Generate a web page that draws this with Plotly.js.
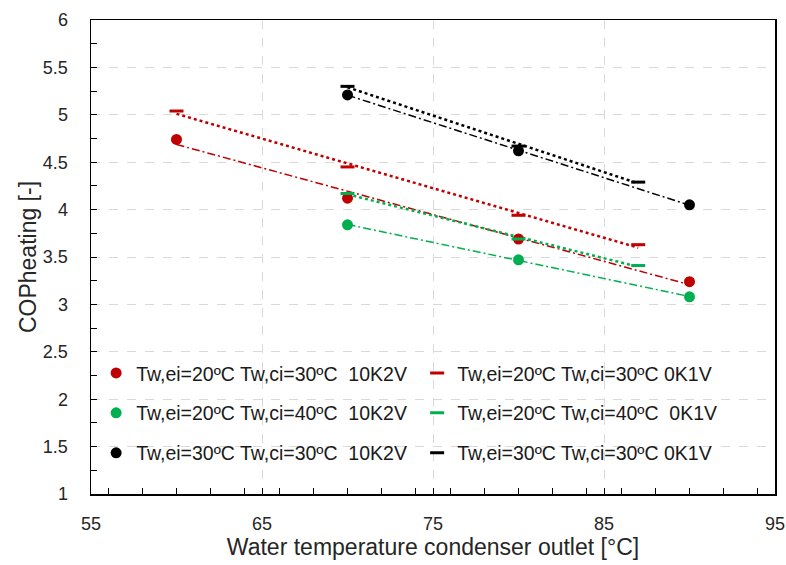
<!DOCTYPE html>
<html><head><meta charset="utf-8">
<script src="https://cdn.plot.ly/plotly-3.0.1.min.js"></script>
<style>html,body{margin:0;padding:0;background:#fff}</style>
</head><body><div id="chart" style="width:786px;height:565px"></div>
<script>
// Data
const xRed10 = [60, 70, 80, 90];
const yRed10 = [4.74, 4.12, 3.69, 3.24];
const xRed0 = [60, 70, 80, 87];
const yRed0 = [5.04, 4.45, 3.94, 3.63];
const xGreen10 = [70, 80, 90];
const yGreen10 = [3.84, 3.47, 3.08];
const xGreen0 = [70, 80, 87];
const yGreen0 = [4.17, 3.69, 3.41];
const xBlack10 = [70, 80, 90];
const yBlack10 = [5.21, 4.62, 4.05];
const xBlack0 = [70, 80, 87];
const yBlack0 = [5.30, 4.67, 4.29];

const seriesNames = [
  "Tw,ei=20ºC Tw,ci=30ºC  10K2V",
  "Tw,ei=20ºC Tw,ci=30ºC 0K1V",
  "Tw,ei=20ºC Tw,ci=40ºC  10K2V",
  "Tw,ei=20ºC Tw,ci=40ºC  0K1V",
  "Tw,ei=30ºC Tw,ci=30ºC  10K2V",
  "Tw,ei=30ºC Tw,ci=30ºC 0K1V"
];

const RED = "#C00000", GREEN = "#00B050", BLACK = "#000000";
const FONT = "Liberation Sans, Arial, sans-serif";

function fit(xs, ys) {
  const n = xs.length;
  const mx = xs.reduce((a, b) => a + b, 0) / n;
  const my = ys.reduce((a, b) => a + b, 0) / n;
  let sxy = 0, sxx = 0;
  for (let i = 0; i < n; i++) { sxy += (xs[i] - mx) * (ys[i] - my); sxx += (xs[i] - mx) ** 2; }
  const b = sxy / sxx, a = my - b * mx;
  const x0 = Math.min(...xs), x1 = Math.max(...xs);
  return { x: [x0, x1], y: [a + b * x0, a + b * x1] };
}

function trend(xs, ys, color, kind) {
  const f = fit(xs, ys);
  return {
    x: f.x, y: f.y, mode: "lines", showlegend: false, hoverinfo: "skip",
    line: kind === "dot" ? { color: color, width: 2.5, dash: "3px,3px" }
                         : { color: color, width: 1.5, dash: "8px,3px,2px,3px" }
  };
}

function circ(xs, ys, color, name, leg) {
  return { x: xs, y: ys, mode: "markers", name: name, legend: leg,
    marker: { symbol: "circle", size: 11, color: color } };
}
function dash(xs, ys, color, name, leg) {
  return { x: xs, y: ys, mode: "markers", name: name, legend: leg,
    marker: { symbol: "line-ew", size: 10, color: color, line: { color: color, width: 3 } } };
}

const traces = [
  trend(xRed10, yRed10, RED, "dashdot"),
  trend(xRed0, yRed0, RED, "dot"),
  trend(xGreen10, yGreen10, GREEN, "dashdot"),
  trend(xGreen0, yGreen0, GREEN, "dot"),
  trend(xBlack10, yBlack10, BLACK, "dashdot"),
  trend(xBlack0, yBlack0, BLACK, "dot"),
  circ(xRed10, yRed10, RED, seriesNames[0], "legend"),
  dash(xRed0, yRed0, RED, seriesNames[1], "legend"),
  circ(xGreen10, yGreen10, GREEN, seriesNames[2], "legend2"),
  dash(xGreen0, yGreen0, GREEN, seriesNames[3], "legend2"),
  circ(xBlack10, yBlack10, BLACK, seriesNames[4], "legend3"),
  dash(xBlack0, yBlack0, BLACK, seriesNames[5], "legend3")
];

function legendAt(y) {
  return {
    orientation: "h", x: 0.0075, xanchor: "left", y: y, yanchor: "middle",
    bgcolor: "rgba(0,0,0,0)", entrywidth: 276, traceorder: "normal",
    font: { family: FONT, size: 19.5, color: "#1a1a1a" }
  };
}

const layout = {
  width: 786, height: 565,
  margin: { l: 91, r: 11, t: 20, b: 71 },
  paper_bgcolor: "#ffffff", plot_bgcolor: "#ffffff",
  font: { family: FONT, color: "#262626" },
  xaxis: {
    range: [55, 95], tick0: 55, dtick: 10, autorange: false,
    showline: true, linecolor: "#000", linewidth: 1.5, mirror: true,
    ticks: "inside", ticklen: 6, tickcolor: "#000", tickwidth: 1,
    minor: { dtick: 2, ticks: "inside", ticklen: 6, tickcolor: "#000", showgrid: false },
    showgrid: true, gridcolor: "#D9D9D9", griddash: "dash", gridwidth: 1,
    zeroline: false, ticklabelstandoff: 13,
    tickfont: { family: FONT, size: 18, color: "#262626" },
    title: { text: "Water temperature condenser outlet [°C]", standoff: 6,
             font: { family: FONT, size: 23, color: "#262626" } }
  },
  yaxis: {
    range: [1, 6], tick0: 1, dtick: 0.5, autorange: false,
    showline: true, linecolor: "#000", linewidth: 1.5, mirror: true,
    ticks: "inside", ticklen: 6, tickcolor: "#000", tickwidth: 1,
    minor: { dtick: 0.25, ticks: "inside", ticklen: 6, tickcolor: "#000", showgrid: false },
    showgrid: true, gridcolor: "#D9D9D9", griddash: "dash", gridwidth: 1,
    zeroline: false, ticklabelstandoff: 18,
    tickfont: { family: FONT, size: 18, color: "#262626" },
    title: { text: "COPheating [-]", standoff: 0,
             font: { family: FONT, size: 23, color: "#262626" } }
  },
  legend: legendAt(0.2547),
  legend2: legendAt(0.1705),
  legend3: legendAt(0.0863),
  showlegend: true
};

Plotly.newPlot("chart", traces, layout, { staticPlot: true, displayModeBar: false });
</script>
</body></html>
